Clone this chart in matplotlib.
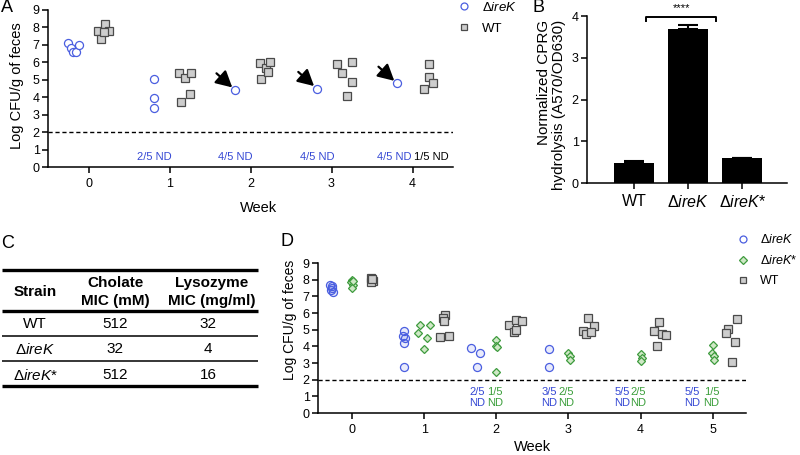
import matplotlib
matplotlib.use('Agg')
import matplotlib.pyplot as plt
from matplotlib.lines import Line2D

plt.rcParams['font.family'] = ['Liberation Sans', 'DejaVu Sans']
plt.rcParams['mathtext.fontset'] = 'custom'
plt.rcParams['mathtext.rm'] = 'Liberation Sans'
plt.rcParams['mathtext.it'] = 'Liberation Sans:italic'
plt.rcParams['mathtext.bf'] = 'Liberation Sans:bold'
plt.rcParams['axes.linewidth'] = 1.1

# ---------------- data ----------------
# Panel A
A_weeks = [0, 1, 2, 3, 4]
A_irek_x = [-0.25, -0.22, -0.19, -0.15, -0.12, 0.81, 0.81, 0.81, 1.81, 2.82, 3.81]
A_irek_y = [7.1, 6.8, 6.6, 6.62, 7.0, 5.03, 3.94, 3.37, 4.42, 4.5, 4.8]
A_wt_x = [0.12, 0.20, 0.25, 0.16, 0.19,
          1.12, 1.19, 1.26, 1.14, 1.25,
          2.12, 2.13, 2.19, 2.24, 2.22,
          3.07, 3.25, 3.13, 3.25, 3.19,
          4.20, 4.20, 4.25, 4.14]
A_wt_y = [7.8, 8.2, 7.8, 7.35, 7.75,
          5.4, 5.1, 5.4, 3.73, 4.18,
          5.95, 5.05, 5.7, 6.0, 5.45,
          5.9, 6.03, 5.4, 4.9, 4.07,
          5.9, 5.18, 4.8, 4.5]
A_arrow_x = [1.81, 2.82, 3.81]
A_arrow_y = [4.42, 4.5, 4.8]
A_nd_x = [0.81, 1.81, 2.82, 3.78, 4.23]
A_nd_text = ['2/5 ND', '4/5 ND', '4/5 ND', '4/5 ND', '1/5 ND']
A_nd_series = ['irek', 'irek', 'irek', 'irek', 'wt']
detection_limit = 2

# Panel B
B_strains = ['WT', 'Δ$ireK$', 'Δ$ireK$*']
B_values = [0.49, 3.68, 0.59]
B_errors = [0.03, 0.11, 0.02]

# Panel C
C_headers = ['Strain', 'Cholate\nMIC (mM)', 'Lysozyme\nMIC (mg/ml)']
C_strains = ['WT', 'Δ$ireK$', 'Δ$ireK$*']
C_cholate = ['512', '32', '512']
C_lysozyme = ['32', '4', '16']

# Panel D
D_irek_x = [-0.30, -0.28, -0.27, -0.29, -0.26,
            0.72, 0.71, 0.74, 0.72, 0.72,
            1.65, 1.77, 1.73,
            2.73, 2.73]
D_irek_y = [7.7, 7.6, 7.5, 7.4, 7.25,
            4.9, 4.65, 4.5, 4.18, 2.76,
            3.9, 3.6, 2.76,
            3.84, 2.76]
D_irekc_x = [0.0, -0.01, 0.01, 0.0, 0.02,
             0.92, 0.95, 1.08, 1.04, 1.0,
             2.0, 1.99, 2.01, 1.99,
             3.0, 3.02, 3.02,
             4.0, 4.02, 4.01,
             5.0, 4.99, 5.02, 5.01]
D_irekc_y = [8.0, 7.85, 7.7, 7.5, 7.9,
             4.78, 5.28, 5.3, 4.52, 3.82,
             4.4, 4.05, 3.95, 2.45,
             3.6, 3.4, 3.2,
             3.54, 3.3, 3.1,
             4.08, 3.6, 3.4, 3.18]
D_wt_x = [0.27, 0.28, 0.29, 0.27, 0.28,
          1.29, 1.26, 1.27, 1.22, 1.35,
          2.18, 2.27, 2.35, 2.25, 2.27,
          3.27, 3.35, 3.20, 3.24, 3.31,
          4.26, 4.18, 4.30, 4.35, 4.22,
          5.34, 5.21, 5.18, 5.31, 5.26]
D_wt_y = [8.1, 8.0, 7.9, 7.85, 8.05,
          5.88, 5.68, 5.54, 4.58, 4.64,
          5.28, 5.58, 5.5, 4.85, 5.0,
          5.68, 5.22, 4.92, 4.74, 4.88,
          5.46, 4.92, 4.75, 4.68, 4.02,
          5.64, 5.04, 4.8, 4.26, 3.06]
D_weeks = [0, 1, 2, 3, 4, 5]
D_nd_irek_x = [1.73, 2.73, 3.75, 4.72]
D_nd_irek = ['2/5', '3/5', '5/5', '5/5']
D_nd_irekc_x = [1.98, 2.97, 3.97, 4.98]
D_nd_irekc = ['1/5', '2/5', '2/5', '1/5']

# ---------------- styles ----------------
BLUE = '#4a5ee0'
BLUE_TXT = '#3548d4'
GREEN = '#3e9b3e'
GREEN_FILL = '#cfe8c6'
GREEN_TXT = '#3a9e3a'
SQ_EDGE = '#4a4a4a'
SQ_FILL = '#cdcdcd'

fig = plt.figure(figsize=(8, 4.55), dpi=100)


def px_axes(l, t, r, b):
    return fig.add_axes([l / 800, 1 - b / 455, (r - l) / 800, (b - t) / 455])


def style_axes(ax, fs=9):
    ax.spines['top'].set_visible(False)
    ax.spines['right'].set_visible(False)
    ax.tick_params(direction='out', length=4, width=1.1, labelsize=fs, pad=2)


# ---------------- Panel A ----------------
axA = px_axes(48, 10, 453, 167)
style_axes(axA)
axA.set_xlim(-0.5, 4.5)
axA.set_ylim(0, 9)
axA.set_yticks(range(0, 10))
axA.set_xticks(A_weeks)
axA.tick_params(axis='x', pad=4)
axA.axhline(detection_limit, color='black', lw=1.0, ls=(0, (3, 2)))
axA.plot(A_irek_x, A_irek_y, 'o', ms=5.8, mfc='white', mec=BLUE, mew=0.9, ls='none', clip_on=False)
axA.plot(A_wt_x, A_wt_y, 's', ms=5.8, mfc=SQ_FILL, mec=SQ_EDGE, mew=0.9, ls='none', clip_on=False)
for x, y in zip(A_arrow_x, A_arrow_y):
    axA.annotate('', xy=(x - 0.035, y + 0.14), xytext=(x - 0.23, y + 0.95),
                 arrowprops=dict(arrowstyle='-|>,head_length=0.75,head_width=0.4',
                                 color='black', lw=1.6, shrinkA=0, shrinkB=0,
                                 mutation_scale=13))
for x, t, s in zip(A_nd_x, A_nd_text, A_nd_series):
    axA.text(x, 0.57, t, ha='center', va='center', fontsize=8,
             color=BLUE_TXT if s == 'irek' else 'black')
axA.set_ylabel('Log CFU/g of feces', fontsize=10.5)
axA.yaxis.set_label_coords(-0.06, 0.52)
axA.set_xlabel('Week', fontsize=10.5)
axA.xaxis.set_label_coords(0.52, -0.215)
hA = [Line2D([], [], marker='o', ls='none', ms=5, mfc='white', mec=BLUE, mew=0.9),
      Line2D([], [], marker='s', ls='none', ms=5, mfc=SQ_FILL, mec=SQ_EDGE, mew=0.9)]
axA.legend(hA, ['Δ$ireK$', 'WT'], loc='upper left',
           bbox_to_anchor=(457 / 800, 1 - 1 / 455), bbox_transform=fig.transFigure,
           frameon=False, fontsize=9.5, handlelength=1.0, handletextpad=0.9,
           labelspacing=0.65, borderpad=0, borderaxespad=0)

# ---------------- Panel B ----------------
axB = px_axes(587, 16, 787, 183)
style_axes(axB)
axB.set_xlim(-0.87, 2.83)
axB.set_ylim(0, 4)
axB.set_yticks(range(0, 5))
xB = list(range(len(B_strains)))
axB.bar(xB, B_values, width=0.74, color='black', zorder=2)
axB.errorbar(xB, B_values, yerr=[[0] * len(B_errors), B_errors], fmt='none',
             ecolor='black', elinewidth=1.5, capsize=7, capthick=1.5, zorder=3)
axB.set_xticks(xB)
axB.set_xticklabels(B_strains, fontsize=11.5)
axB.tick_params(axis='x', pad=4)
axB.plot([0.22, 0.22, 1.52, 1.52], [3.87, 3.98, 3.98, 3.87], color='black', lw=1.4, clip_on=False)
axB.text(0.87, 4.07, '****', ha='center', va='bottom', fontsize=8)
axB.set_ylabel('Normalized CPRG\nhydrolysis (A570/OD630)', fontsize=11,
               linespacing=1.05, multialignment='right')
axB.yaxis.set_label_coords(-0.105, 0.47)

# ---------------- Panel D ----------------
axD = px_axes(318, 263, 746, 413)
style_axes(axD)
axD.set_xlim(-0.47, 5.46)
axD.set_ylim(0, 9)
axD.set_yticks(range(0, 10))
axD.set_xticks(D_weeks)
axD.tick_params(axis='x', pad=4)
axD.axhline(detection_limit, color='black', lw=1.0, ls=(0, (3, 2)))
axD.plot(D_irek_x, D_irek_y, 'o', ms=5.8, mfc=(0.29, 0.37, 0.88, 0.12), mec=BLUE, mew=0.9, ls='none')
axD.plot(D_irekc_x, D_irekc_y, 'D', ms=4.4, mfc=GREEN_FILL, mec=GREEN, mew=0.9, ls='none')
axD.plot(D_wt_x, D_wt_y, 's', ms=5.5, mfc=SQ_FILL, mec=SQ_EDGE, mew=0.9, ls='none')
for x, t in zip(D_nd_irek_x, D_nd_irek):
    axD.text(x, 0.93, t + '\nND', ha='center', va='center', fontsize=8,
             color=BLUE_TXT, linespacing=1.15)
for x, t in zip(D_nd_irekc_x, D_nd_irekc):
    axD.text(x, 0.93, t + '\nND', ha='center', va='center', fontsize=8,
             color=GREEN_TXT, linespacing=1.15)
axD.set_ylabel('Log CFU/g of feces', fontsize=10)
axD.yaxis.set_label_coords(-0.05, 0.62)
axD.set_xlabel('Week', fontsize=10.5)
axD.xaxis.set_label_coords(0.5, -0.18)
hD = [Line2D([], [], marker='o', ls='none', ms=5, mfc='white', mec=BLUE, mew=0.9),
      Line2D([], [], marker='D', ls='none', ms=4, mfc=GREEN_FILL, mec=GREEN, mew=0.9),
      Line2D([], [], marker='s', ls='none', ms=5, mfc=SQ_FILL, mec=SQ_EDGE, mew=0.9)]
axD.legend(hD, ['Δ$ireK$', 'Δ$ireK$*', 'WT'], loc='upper left',
           bbox_to_anchor=(737 / 800, 1 - 233 / 455), bbox_transform=fig.transFigure,
           frameon=False, fontsize=9, handlelength=1.0, handletextpad=0.8,
           labelspacing=0.65, borderpad=0, borderaxespad=0)

# ---------------- Panel C (table) ----------------
axC = fig.add_axes([0, 0, 1, 1], zorder=-1)
axC.set_xlim(0, 800)
axC.set_ylim(455, 0)
axC.axis('off')
col_x = [35, 115, 212]
tbl_l, tbl_r = 2, 258
for y, lw in [(270, 2.4), (311, 2.4), (336, 1.1), (361, 1.1), (386, 2.4)]:
    axC.plot([tbl_l, tbl_r], [y, y], color='black', lw=lw, solid_capstyle='butt')
axC.text(col_x[0], 292, C_headers[0], ha='center', va='center', fontsize=11, fontweight='bold')
for cx, h in zip(col_x[1:], C_headers[1:]):
    axC.text(cx, 292, h, ha='center', va='center', fontsize=11, fontweight='bold', linespacing=1.35)
row_y = [324, 349, 375]
for ry, s, c, l in zip(row_y, C_strains, C_cholate, C_lysozyme):
    axC.text(col_x[0], ry, s, ha='center', va='center', fontsize=11)
    axC.text(col_x[1], ry, c, ha='center', va='center', fontsize=11)
    axC.text(col_x[2] - 4, ry, l, ha='center', va='center', fontsize=11)

# panel letters
for lbl, x, y in [('A', 1, 8), ('B', 533, 8), ('C', 1, 243), ('D', 280, 241)]:
    axC.text(x, y, lbl, ha='left', va='center', fontsize=13)

fig.savefig('out.png', dpi=100)
